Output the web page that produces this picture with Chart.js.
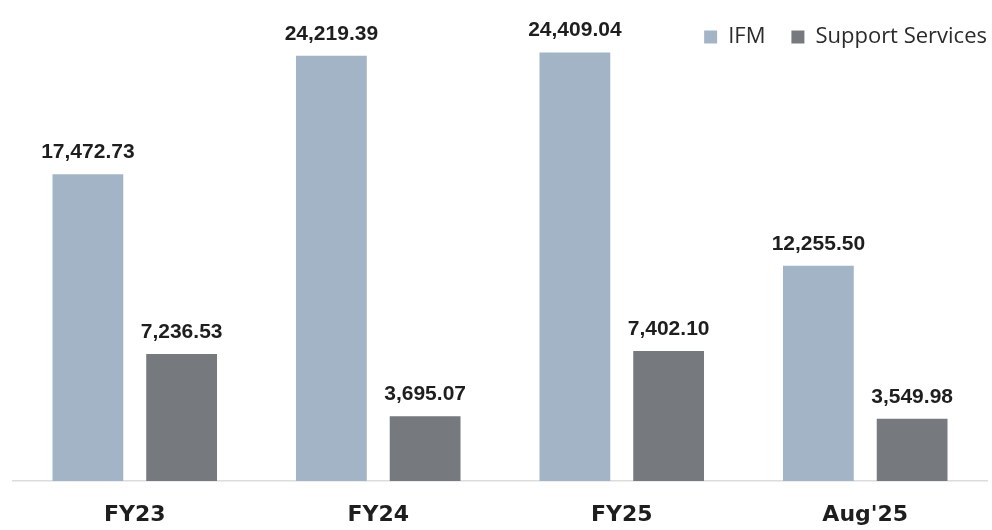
<!DOCTYPE html>
<html>
<head>
<meta charset="utf-8">
<script src="https://cdn.jsdelivr.net/npm/chart.js@4.4.1/dist/chart.umd.min.js"></script>
<style>
  html, body { margin: 0; padding: 0; background: #fff; }
  #wrap { width: 992px; height: 530px; }
</style>
</head>
<body>
<div id="wrap"><canvas id="myChart"></canvas></div>
<script>
var periods = ["FY23", "FY24", "FY25", "Aug'25"];
var ifmValues = [17472.73, 24219.39, 24409.04, 12255.50];
var supportValues = [7236.53, 3695.07, 7402.10, 3549.98];
var seriesNames = ["IFM", "Support Services"];

var barColors = ["#a4b4c7", "#76797e"];

function fmt(v) {
    return v.toLocaleString("en-US", { minimumFractionDigits: 2, maximumFractionDigits: 2 });
}

// draws the numbers above each bar
var valueLabels = {
    id: "valueLabels",
    afterDatasetsDraw: function(chart) {
        var ctx = chart.ctx;
        ctx.save();
        ctx.font = "bold 21px 'Liberation Sans', Arial, sans-serif";
        ctx.fillStyle = "#1e1e1e";
        ctx.textAlign = "center";
        ctx.textBaseline = "alphabetic";
        chart.data.datasets.forEach(function(ds, i) {
            chart.getDatasetMeta(i).data.forEach(function(bar, j) {
                ctx.fillText(fmt(ds.data[j]), bar.x, bar.y - 16);
            });
        });
        ctx.restore();
    }
};

// legend box a fixed height so the plot starts where it should,
// and pushed flush to the right edge
var flatLegend = {
    id: "flatLegend",
    afterInit: function(chart) {
        var lg = chart.legend;
        var origFit = lg.fit;
        var origDraw = lg.draw;
        lg.fit = function() {
            origFit.call(this);
            this.height = 50;
        };
        lg.draw = function() {
            this.ctx.save();
            this.ctx.translate(26, 0);
            origDraw.call(this);
            this.ctx.restore();
        };
    }
};

new Chart("myChart", {
    type: "bar",
    data: {
        labels: periods,
        datasets: [{
            label: seriesNames[0],
            data: ifmValues,
            backgroundColor: barColors[0],
            categoryPercentage: 0.77,
            barPercentage: 0.755
        }, {
            label: seriesNames[1],
            data: supportValues,
            backgroundColor: barColors[1],
            categoryPercentage: 0.77,
            barPercentage: 0.755
        }]
    },
    plugins: [valueLabels, flatLegend],
    options: {
        responsive: true,
        maintainAspectRatio: false,
        animation: false,
        layout: { padding: { left: 13, right: 5, top: 0, bottom: 0 } },
        plugins: {
            legend: {
                display: true,
                position: "top",
                align: "end",
                labels: {
                    boxWidth: 13,
                    boxHeight: 13,
                    padding: 26,
                    color: "#2b2b2b",
                    font: { family: "'Open Sans', sans-serif", size: 22 }
                }
            },
            tooltip: { enabled: false }
        },
        scales: {
            x: {
                grid: { display: false, drawTicks: false },
                border: { display: true, color: "#dcdcdc", width: 1.5 },
                ticks: {
                    padding: 21,
                    color: "#1e1e1e",
                    font: { family: "'DejaVu Sans', sans-serif", size: 22, weight: "bold" }
                },
                afterFit: function(scale) {
                    scale.height = 49;
                }
            },
            y: {
                display: false,
                min: 0,
                max: 24550
            }
        }
    }
});
</script>
</body>
</html>
